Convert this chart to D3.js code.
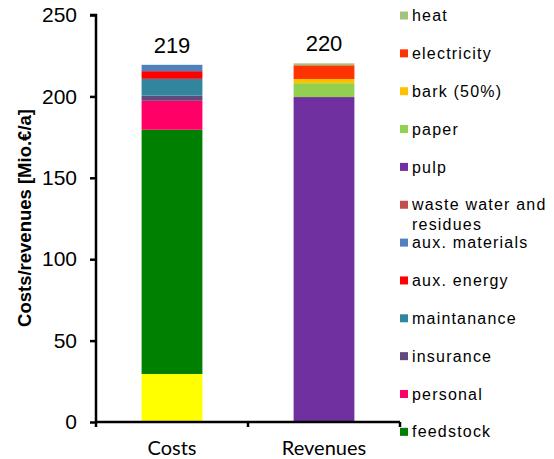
<!DOCTYPE html>
<html><head><meta charset="utf-8">
<script src="https://cdn.jsdelivr.net/npm/d3@7"></script>
<style>
html,body{margin:0;padding:0;background:#fff;}
svg{display:block;}
</style></head>
<body>
<svg id="chart" width="554" height="459"></svg>
<script>
// ---- data ----
const categories = ["Costs", "Revenues"];
const totals = ["219", "220"];
// series in stacking order (bottom to top)
const seriesNames = ["", "feedstock", "personal", "insurance", "maintanance", "aux. energy", "aux. materials", "waste water and residues", "pulp", "paper", "bark (50%)", "electricity", "heat"];
const seriesColors = ["#FFFF00", "#008000", "#FF0066", "#604A7B", "#31859C", "#FF0000", "#4F81BD", "#C0504D", "#7030A0", "#92D050", "#FFC000", "#FF3300", "#A2C27E"];
const costsValues    = [29.5, 150, 17.8, 3.2, 10.3, 4.7, 3.9, 0, 0, 0, 0, 0, 0];
const revenuesValues = [0, 0, 0, 0, 0, 0, 0, 0, 199.6, 8.5, 2.6, 8.4, 1.2];
const yTicks = [0, 50, 100, 150, 200, 250];
const yLabel = "Costs/revenues [Mio.€/a]";
// legend order (top to bottom)
const legendOrder = ["heat", "electricity", "bark (50%)", "paper", "pulp", "waste water and residues", "aux. materials", "aux. energy", "maintanance", "insurance", "personal", "feedstock"];

const svg = d3.select("#chart");
const x = d3.scaleBand().domain(categories).range([96, 400]).paddingInner(0.6).paddingOuter(0.3);
const y = d3.scaleLinear().domain([0, 250]).range([422, 15]);

const rows = categories.map((c, i) => {
  const vals = i === 0 ? costsValues : revenuesValues;
  const o = {cat: c};
  seriesNames.forEach((s, j) => o["s" + j] = vals[j]);
  return o;
});
const keys = seriesNames.map((s, j) => "s" + j);
const stacked = d3.stack().keys(keys)(rows);

svg.append("g").selectAll("g").data(stacked).join("g")
  .attr("fill", (d, j) => seriesColors[j])
  .selectAll("rect").data(d => d.filter(p => p[1] - p[0] > 0)).join("rect")
  .attr("x", d => x(d.data.cat))
  .attr("width", x.bandwidth())
  .attr("y", d => y(d[1]))
  .attr("height", d => y(d[0]) - y(d[1]));

// totals
const sums = rows.map((r, i) => d3.sum(keys, k => r[k]));
svg.append("g").selectAll("text").data(categories).join("text")
  .attr("x", d => x(d) + x.bandwidth() / 2)
  .attr("y", (d, i) => y(sums[i]) - 12)
  .attr("text-anchor", "middle")
  .attr("font-family", "Liberation Sans, Arial, sans-serif")
  .attr("font-size", 22)
  .attr("fill", "#000")
  .text((d, i) => totals[i]);

// y axis
const yAxis = d3.axisLeft(y).tickValues(yTicks).tickSize(6).tickPadding(13).tickFormat(d3.format("d"));
const gy = svg.append("g").attr("transform", "translate(96,0)").call(yAxis);
gy.select(".domain").attr("stroke", "#000").attr("stroke-width", 2.5).attr("d", `M-6,${y(250)}H0V${y(0)}`);
gy.selectAll(".tick line").attr("stroke", "#000").attr("stroke-width", 2.5);
gy.selectAll(".tick text").attr("font-family", "Liberation Sans, Arial, sans-serif").attr("font-size", 21).attr("fill", "#000");

// x axis
const xAxis = d3.axisBottom(x).tickSize(0).tickPadding(0);
const gx = svg.append("g").attr("transform", `translate(0,${y(0)})`).call(xAxis);
gx.select(".domain").attr("stroke", "#000").attr("stroke-width", 2.5).attr("d", `M96,0H400`);
gx.selectAll(".tick text").attr("font-family", "Lato, 'Open Sans', sans-serif").attr("font-size", 20).attr("fill", "#000").attr("dy", null).attr("y", 33);
const step = x.step();
const tickXs = [x.range()[0]].concat(categories.map(c => x(c) + x.bandwidth() / 2 + step / 2));
gx.append("g").selectAll("line").data(tickXs).join("line")
  .attr("x1", d => d).attr("x2", d => d).attr("y1", 0).attr("y2", 5)
  .attr("stroke", "#000").attr("stroke-width", 2.5);

// y label
svg.append("text")
  .attr("transform", "translate(31,218) rotate(-90)")
  .attr("text-anchor", "middle")
  .attr("font-family", "Liberation Sans, Arial, sans-serif")
  .attr("font-weight", "bold")
  .attr("font-size", 18.5)
  .attr("fill", "#000")
  .text(yLabel);

// legend
const legend = svg.append("g");
const rowH = 37.85;
legendOrder.forEach((name, i) => {
  const j = seriesNames.indexOf(name);
  const cy = 15.5 + i * rowH;
  legend.append("rect").attr("x", 400).attr("y", cy - 4).attr("width", 8).attr("height", 8).attr("fill", seriesColors[j]);
  const t = legend.append("text")
    .attr("x", 412).attr("y", cy).attr("dy", "0.35em")
    .attr("font-family", "Liberation Sans, Arial, sans-serif")
    .attr("font-size", 16).attr("letter-spacing", "1.2px").attr("fill", "#000");
  if (name === "waste water and residues") {
    t.append("tspan").attr("x", 412).text("waste water and");
    t.append("tspan").attr("x", 412).attr("dy", "1.25em").text("residues");
  } else {
    t.text(name);
  }
});
</script>
</body></html>
